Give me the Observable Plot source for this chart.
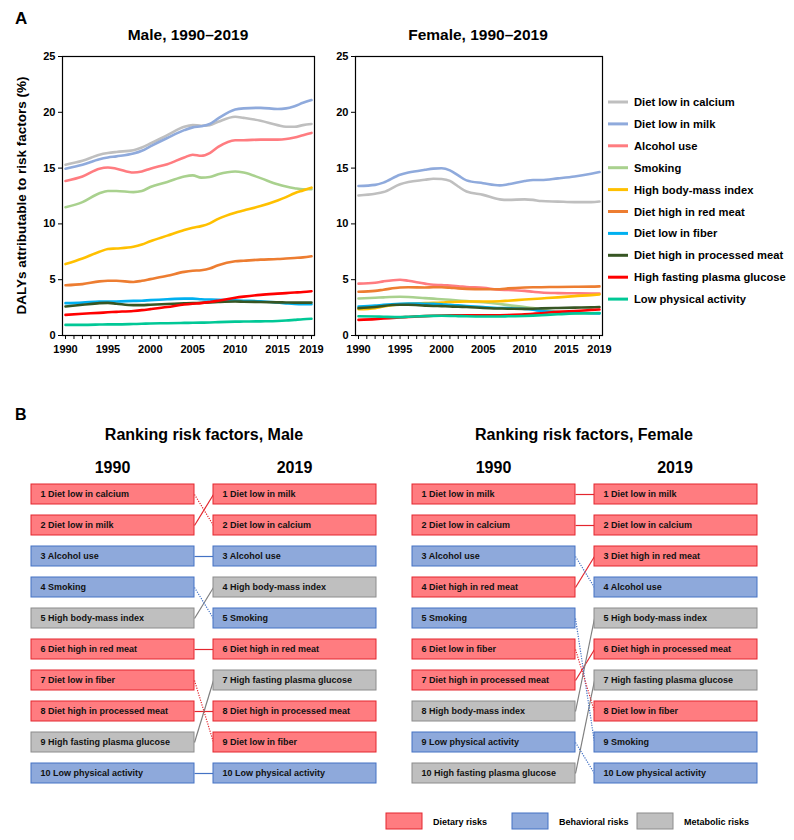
<!DOCTYPE html>
<html>
<head>
<meta charset="utf-8">
<script src="https://cdn.jsdelivr.net/npm/d3@7"></script>
<script src="https://cdn.jsdelivr.net/npm/@observablehq/plot@0.6"></script>
<style>
  html, body { margin: 0; padding: 0; background: #fff; }
  #page { position: relative; width: 794px; height: 840px; overflow: hidden; font-family: "Liberation Sans", Arial, sans-serif; }
  .abs { position: absolute; }
  svg { overflow: visible; }
</style>
</head>
<body>
<div id="page"></div>
<script>
// ---------------- DATA ----------------
const seriesNames = ["Diet low in calcium", "Diet low in milk", "Alcohol use", "Smoking", "High body-mass index",
  "Diet high in red meat", "Diet low in fiber", "Diet high in processed meat", "High fasting plasma glucose", "Low physical activity"];
const seriesColors = ["#BFBFBF", "#8FAADC", "#FF7C80", "#A9D18E", "#FFC000", "#ED7D31", "#00B0F0", "#375623", "#FF0000", "#00C896"];

const maleYears = [1990, 1992, 1994, 1995, 1996, 1998, 1999, 2000, 2002, 2004, 2005, 2006, 2007, 2008, 2010, 2011, 2013, 2015, 2016, 2017, 2018, 2019];
const maleCalcium   = [15.3, 15.65, 16.2, 16.35, 16.45, 16.6, 16.85, 17.2, 17.95, 18.7, 18.85, 18.8, 18.85, 19.15, 19.6, 19.5, 19.25, 18.85, 18.7, 18.7, 18.85, 18.95];
const maleMilk      = [14.95, 15.3, 15.8, 15.95, 16.05, 16.3, 16.55, 16.95, 17.7, 18.4, 18.65, 18.75, 18.95, 19.45, 20.25, 20.35, 20.4, 20.3, 20.35, 20.55, 20.85, 21.1];
const maleAlcohol   = [13.85, 14.25, 14.95, 15.05, 14.95, 14.6, 14.7, 14.95, 15.35, 15.95, 16.2, 16.1, 16.35, 16.9, 17.5, 17.5, 17.55, 17.55, 17.6, 17.75, 17.95, 18.15];
const maleSmoking   = [11.5, 11.95, 12.75, 12.95, 12.95, 12.85, 12.95, 13.3, 13.75, 14.25, 14.35, 14.15, 14.2, 14.45, 14.7, 14.6, 14.1, 13.55, 13.35, 13.2, 13.1, 13.1];
const maleBMI       = [6.4, 6.9, 7.5, 7.75, 7.8, 7.95, 8.15, 8.45, 8.95, 9.45, 9.65, 9.8, 10.05, 10.45, 11.0, 11.2, 11.6, 12.1, 12.4, 12.75, 13.0, 13.25];
const maleRedMeat   = [4.5, 4.6, 4.85, 4.9, 4.9, 4.8, 4.9, 5.05, 5.35, 5.7, 5.8, 5.85, 6.0, 6.3, 6.65, 6.7, 6.8, 6.85, 6.9, 6.95, 7.0, 7.1];
const maleFiber     = [2.9, 2.95, 3.05, 3.05, 3.05, 3.1, 3.12, 3.17, 3.25, 3.3, 3.3, 3.25, 3.22, 3.2, 3.15, 3.12, 3.07, 2.95, 2.88, 2.82, 2.8, 2.8];
const maleProcessed = [2.6, 2.75, 2.9, 2.92, 2.85, 2.72, 2.72, 2.76, 2.82, 2.88, 2.9, 2.93, 2.96, 3.0, 3.05, 3.03, 3.0, 2.97, 2.96, 2.95, 2.95, 2.95];
const maleFPG       = [1.85, 1.95, 2.03, 2.08, 2.12, 2.2, 2.27, 2.36, 2.55, 2.78, 2.85, 2.9, 3.0, 3.12, 3.38, 3.48, 3.64, 3.75, 3.8, 3.85, 3.9, 3.97];
const maleLowPA     = [0.95, 0.95, 0.98, 1.0, 1.0, 1.03, 1.05, 1.08, 1.1, 1.13, 1.14, 1.15, 1.17, 1.2, 1.24, 1.25, 1.27, 1.3, 1.34, 1.4, 1.46, 1.5];

const femaleYears = [1990, 1992, 1993, 1995, 1996, 1998, 1999, 2000, 2001, 2002, 2003, 2005, 2007, 2008, 2010, 2011, 2012, 2014, 2016, 2018, 2019];
const femaleCalcium   = [12.55, 12.7, 12.85, 13.55, 13.75, 13.95, 14.05, 14.02, 13.85, 13.35, 12.9, 12.6, 12.2, 12.15, 12.2, 12.15, 12.05, 12.0, 11.95, 11.95, 12.0];
const femaleMilk      = [13.4, 13.5, 13.7, 14.4, 14.6, 14.85, 14.95, 14.98, 14.8, 14.35, 13.9, 13.65, 13.45, 13.55, 13.85, 13.93, 13.93, 14.08, 14.25, 14.5, 14.65];
const femaleAlcohol   = [4.65, 4.72, 4.85, 5.0, 4.9, 4.65, 4.55, 4.52, 4.47, 4.42, 4.35, 4.27, 4.1, 4.08, 4.0, 3.92, 3.85, 3.8, 3.78, 3.77, 3.75];
const femaleSmoking   = [3.32, 3.38, 3.42, 3.47, 3.45, 3.35, 3.3, 3.25, 3.2, 3.14, 3.08, 2.98, 2.82, 2.72, 2.55, 2.45, 2.32, 2.1, 1.98, 1.97, 1.97];
const femaleBMI       = [2.35, 2.45, 2.6, 2.8, 2.85, 2.9, 2.92, 2.95, 3.0, 3.03, 3.05, 3.05, 3.07, 3.12, 3.22, 3.27, 3.32, 3.42, 3.53, 3.62, 3.68];
const femaleRedMeat   = [3.92, 4.0, 4.1, 4.3, 4.32, 4.3, 4.32, 4.32, 4.28, 4.22, 4.18, 4.15, 4.15, 4.22, 4.3, 4.32, 4.33, 4.35, 4.37, 4.38, 4.4];
const femaleFiber     = [2.6, 2.68, 2.75, 2.84, 2.86, 2.85, 2.84, 2.8, 2.74, 2.7, 2.65, 2.55, 2.47, 2.45, 2.38, 2.3, 2.2, 2.1, 2.05, 2.0, 1.98];
const femaleProcessed = [2.45, 2.55, 2.65, 2.75, 2.75, 2.68, 2.65, 2.63, 2.6, 2.57, 2.55, 2.47, 2.42, 2.4, 2.39, 2.4, 2.43, 2.47, 2.5, 2.52, 2.55];
const femaleFPG       = [1.4, 1.47, 1.52, 1.62, 1.66, 1.74, 1.77, 1.79, 1.8, 1.8, 1.8, 1.8, 1.82, 1.84, 1.9, 1.95, 2.0, 2.12, 2.2, 2.28, 2.33];
const femaleLowPA     = [1.73, 1.7, 1.68, 1.65, 1.68, 1.74, 1.76, 1.77, 1.76, 1.74, 1.72, 1.7, 1.7, 1.72, 1.75, 1.78, 1.82, 1.9, 1.97, 2.0, 2.02];

const yTicks = [0, 5, 10, 15, 20, 25];
const xTickLabels = [1990, 1995, 2000, 2005, 2010, 2015, 2019];

const maleRank1990 = ["Diet low in calcium", "Diet low in milk", "Alcohol use", "Smoking", "High body-mass index",
  "Diet high in red meat", "Diet low in fiber", "Diet high in processed meat", "High fasting plasma glucose", "Low physical activity"];
const maleRank2019 = ["Diet low in milk", "Diet low in calcium", "Alcohol use", "High body-mass index", "Smoking",
  "Diet high in red meat", "High fasting plasma glucose", "Diet high in processed meat", "Diet low in fiber", "Low physical activity"];
const femaleRank1990 = ["Diet low in milk", "Diet low in calcium", "Alcohol use", "Diet high in red meat", "Smoking",
  "Diet low in fiber", "Diet high in processed meat", "High body-mass index", "Low physical activity", "High fasting plasma glucose"];
const femaleRank2019 = ["Diet low in milk", "Diet low in calcium", "Diet high in red meat", "Alcohol use", "High body-mass index",
  "Diet high in processed meat", "High fasting plasma glucose", "Diet low in fiber", "Smoking", "Low physical activity"];

const categoryNames = ["Dietary risks", "Behavioral risks", "Metabolic risks"];
const dietaryFactors = ["Diet low in calcium", "Diet low in milk", "Diet high in red meat", "Diet low in fiber", "Diet high in processed meat"];
const behavioralFactors = ["Alcohol use", "Smoking", "Low physical activity"];
const metabolicFactors = ["High body-mass index", "High fasting plasma glucose"];
const categoryFill = ["#FF7C80", "#8EA9DB", "#BFBFBF"];
const categoryStroke = ["#E3262E", "#4472C4", "#8C8C8C"];
const categoryLink = ["#E3262E", "#4472C4", "#7F7F7F"];

// ---------------- HELPERS ----------------
const FONT = '"Liberation Sans", Arial, Helvetica, sans-serif';
const page = document.getElementById("page");

function tidy(years, arrays) {
  const rows = [];
  seriesNames.forEach((name, i) => {
    arrays[i].forEach((v, j) => rows.push({name, year: years[j], value: v}));
  });
  return rows;
}
const maleRows = tidy(maleYears, [maleCalcium, maleMilk, maleAlcohol, maleSmoking, maleBMI, maleRedMeat, maleFiber, maleProcessed, maleFPG, maleLowPA]);
const femaleRows = tidy(femaleYears, [femaleCalcium, femaleMilk, femaleAlcohol, femaleSmoking, femaleBMI, femaleRedMeat, femaleFiber, femaleProcessed, femaleFPG, femaleLowPA]);

function place(node, left, top) {
  node.classList.add("abs");
  node.style.left = left + "px";
  node.style.top = top + "px";
  page.appendChild(node);
}

function linePlot(rows, marginLeft, marginRight) {
  return Plot.plot({
    width: 330, height: 360,
    marginLeft, marginRight, marginTop: 56, marginBottom: 25,
    style: {fontFamily: FONT, fontSize: "11px", fontWeight: "bold", color: "#000", background: "transparent", overflow: "visible"},
    x: {domain: [1990, 2019], insetLeft: 3, insetRight: 3},
    y: {domain: [0, 25]},
    color: {domain: seriesNames, range: seriesColors},
    marks: [
      Plot.line(rows, {x: "year", y: "value", z: "name", stroke: "name", strokeWidth: 2.6, curve: "monotone-x"}),
      Plot.frame({stroke: "#000", strokeWidth: 1.2}),
      Plot.axisX({ticks: d3.range(1990, 2020), tickSize: 4, tickPadding: 6, stroke: "#000",
        tickFormat: d => xTickLabels.includes(d) ? String(d) : "", label: null}),
      Plot.axisY({ticks: yTicks, tickSize: 4, tickPadding: 3, stroke: "#000", label: null})
    ]
  });
}

function categoryIndex(name) {
  if (dietaryFactors.includes(name)) return 0;
  if (behavioralFactors.includes(name)) return 1;
  return 2;
}

const COL_GAP = 19 / 163; // gap between the two columns, in column widths
function rankPlot(list1990, list2019, width, marginLeft, marginRight) {
  const ranks = d3.range(1, list1990.length + 1);
  const boxes = [
    ...list1990.map((name, i) => ({col: 0, rank: i + 1, name})),
    ...list2019.map((name, i) => ({col: 1, rank: i + 1, name}))
  ];
  const links = list1990.map((name, i) => ({name, r0: i + 1, r1: list2019.indexOf(name) + 1}));
  const colStart = d => d.col * (1 + COL_GAP);
  return Plot.plot({
    width, height: 330,
    marginLeft, marginRight, marginTop: 11, marginBottom: 14,
    style: {fontFamily: FONT, background: "transparent", overflow: "visible"},
    x: {domain: [0, 2 + COL_GAP], axis: null},
    y: {type: "band", domain: ranks, paddingInner: 0.37, paddingOuter: 0, axis: null},
    color: {type: "identity"},
    marks: [
      Plot.link(links.filter(d => d.r1 <= d.r0), {x1: () => 1, x2: () => 1 + COL_GAP, y1: "r0", y2: "r1",
        stroke: d => categoryLink[categoryIndex(d.name)], strokeWidth: 1.2}),
      Plot.link(links.filter(d => d.r1 > d.r0), {x1: () => 1, x2: () => 1 + COL_GAP, y1: "r0", y2: "r1",
        stroke: d => categoryLink[categoryIndex(d.name)], strokeWidth: 1.2, strokeDasharray: "1.2,1.3"}),
      Plot.barX(boxes, {x1: colStart, x2: d => colStart(d) + 1, y: "rank",
        fill: d => categoryFill[categoryIndex(d.name)], stroke: d => categoryStroke[categoryIndex(d.name)], strokeWidth: 1}),
      Plot.text(boxes, {x: colStart, y: "rank", text: d => `${d.rank} ${d.name}`, textAnchor: "start", dx: 9,
        fontSize: 9, fontWeight: "bold", fill: "#111"})
    ]
  });
}

// ---------------- PART A ----------------
place(linePlot(maleRows, 62, 16), 0, 0);
place(linePlot(femaleRows, 65, 18), 290, 0);

// ---------------- PART B ----------------
place(rankPlot(maleRank1990, maleRank2019, 400, 31, 24), 0, 470);
place(rankPlot(femaleRank1990, femaleRank2019, 394, 12, 37), 400, 470);

// ---------------- OVERLAY TEXT / LEGENDS ----------------
const NS = "http://www.w3.org/2000/svg";
const ov = document.createElementNS(NS, "svg");
ov.setAttribute("width", 794); ov.setAttribute("height", 840);
ov.style.pointerEvents = "none";
ov.style.fontFamily = FONT;
place(ov, 0, 0);

function txt(s, x, y, size, anchor = "start", extra = {}) {
  const t = document.createElementNS(NS, "text");
  t.textContent = s;
  t.setAttribute("x", x); t.setAttribute("y", y);
  t.setAttribute("font-size", size);
  t.setAttribute("font-weight", "bold");
  t.setAttribute("text-anchor", anchor);
  t.setAttribute("fill", "#000");
  for (const k in extra) t.setAttribute(k, extra[k]);
  ov.appendChild(t);
  return t;
}
function el(tag, attrs) {
  const e = document.createElementNS(NS, tag);
  for (const k in attrs) e.setAttribute(k, attrs[k]);
  ov.appendChild(e);
  return e;
}

txt("A", 15, 23.5, 17);
txt("Male, 1990\u20132019", 188, 40, 15.5, "middle");
txt("Female, 1990\u20132019", 478, 40, 15.5, "middle");
txt("DALYs attributable to risk factors (%)", 0, 0, 13.5, "middle", {transform: "translate(26,195.5) rotate(-90)"});

// line legend
seriesNames.forEach((name, i) => {
  const y = 102 + i * 21.9;
  el("line", {x1: 608, x2: 628, y1: y, y2: y, stroke: seriesColors[i], "stroke-width": 3});
  txt(name, 634, y + 4, 11.2);
});

txt("B", 15, 419.5, 16);
txt("Ranking risk factors, Male", 204, 439.5, 16, "middle");
txt("Ranking risk factors, Female", 584, 439.5, 16, "middle");
txt("1990", 112.5, 472.5, 16, "middle");
txt("2019", 294.5, 472.5, 16, "middle");
txt("1990", 493.5, 472.5, 16, "middle");
txt("2019", 675, 472.5, 16, "middle");

// category legend
const legendX = [386, 512, 637];
categoryNames.forEach((name, i) => {
  el("rect", {x: legendX[i], y: 813, width: 36, height: 16, fill: categoryFill[i], stroke: categoryStroke[i], "stroke-width": 1});
  txt(name, legendX[i] + 47, 824.5, 9);
});
</script>
</body>
</html>
